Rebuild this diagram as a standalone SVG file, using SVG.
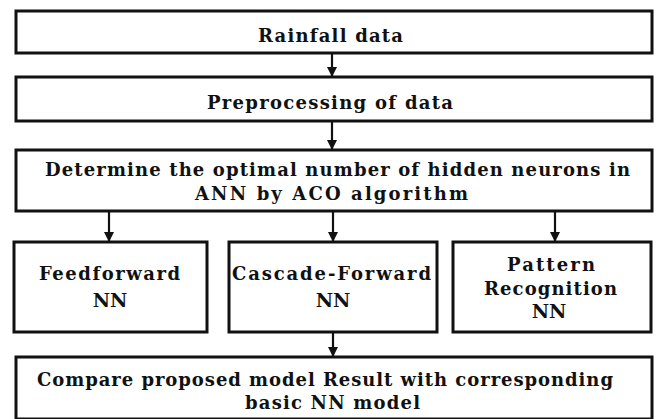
<svg xmlns="http://www.w3.org/2000/svg" width="659" height="419" viewBox="0 0 659 419">
<style>
.box{fill:#fff;stroke:#111;stroke-width:3}
.c{stroke:#111;stroke-width:2.2;fill:none}
</style>
<defs>
<marker id="ah" markerWidth="10" markerHeight="10" refX="9" refY="5" orient="auto" markerUnits="userSpaceOnUse">
<path d="M0,0 L10,5 L0,10 Z" fill="#111"/>
</marker>
</defs>
<rect width="659" height="419" fill="#fff"/>
<g id="connectors">
<line class="c" x1="332" y1="53" x2="332" y2="76" marker-end="url(#ah)"/>
<line class="c" x1="332" y1="121" x2="332" y2="149" marker-end="url(#ah)"/>
<line class="c" x1="109" y1="211" x2="109" y2="241" marker-end="url(#ah)"/>
<line class="c" x1="333" y1="211" x2="333" y2="241" marker-end="url(#ah)"/>
<line class="c" x1="555" y1="211" x2="555" y2="241" marker-end="url(#ah)"/>
<line class="c" x1="333" y1="333" x2="333" y2="356" marker-end="url(#ah)"/>
</g>
<g font-family="'DejaVu Serif', serif" font-weight="bold" font-size="18" fill="#111" text-anchor="middle">
<g id="rainfall">
<rect class="box" x="16" y="11" width="636" height="42"/>
<text x="330.5" y="42" textLength="145" lengthAdjust="spacing">Rainfall data</text>
</g>
<g id="preprocessing">
<rect class="box" x="16" y="77" width="636" height="44"/>
<text x="330" y="109" textLength="246" lengthAdjust="spacing">Preprocessing of data</text>
</g>
<g id="aco">
<rect class="box" x="16" y="150" width="636" height="61"/>
<text x="337.5" y="176" textLength="585" lengthAdjust="spacing">Determine the optimal number of hidden neurons in</text>
<text x="331.5" y="200" textLength="273" lengthAdjust="spacing">ANN by ACO algorithm</text>
</g>
<g id="feedforward">
<rect class="box" x="14" y="242" width="193" height="90"/>
<text x="109.5" y="280" textLength="141" lengthAdjust="spacing">Feedforward</text>
<text x="110" y="307" font-size="19">NN</text>
</g>
<g id="cascade">
<rect class="box" x="229" y="242" width="208" height="90"/>
<text x="331.5" y="280" textLength="199" lengthAdjust="spacing">Cascade-Forward</text>
<text x="333" y="307" font-size="19">NN</text>
</g>
<g id="pattern">
<rect class="box" x="453" y="242" width="198" height="90"/>
<text x="551" y="271" textLength="88" lengthAdjust="spacing">Pattern</text>
<text x="550.5" y="295" textLength="133" lengthAdjust="spacing">Recognition</text>
<text x="549" y="318" font-size="19">NN</text>
</g>
<g id="compare">
<rect class="box" x="16" y="357" width="636" height="62"/>
<text x="325" y="386" textLength="576" lengthAdjust="spacing">Compare proposed model Result with corresponding</text>
<text x="332.5" y="409" textLength="175" lengthAdjust="spacing">basic NN model</text>
</g>
</g>
</svg>
